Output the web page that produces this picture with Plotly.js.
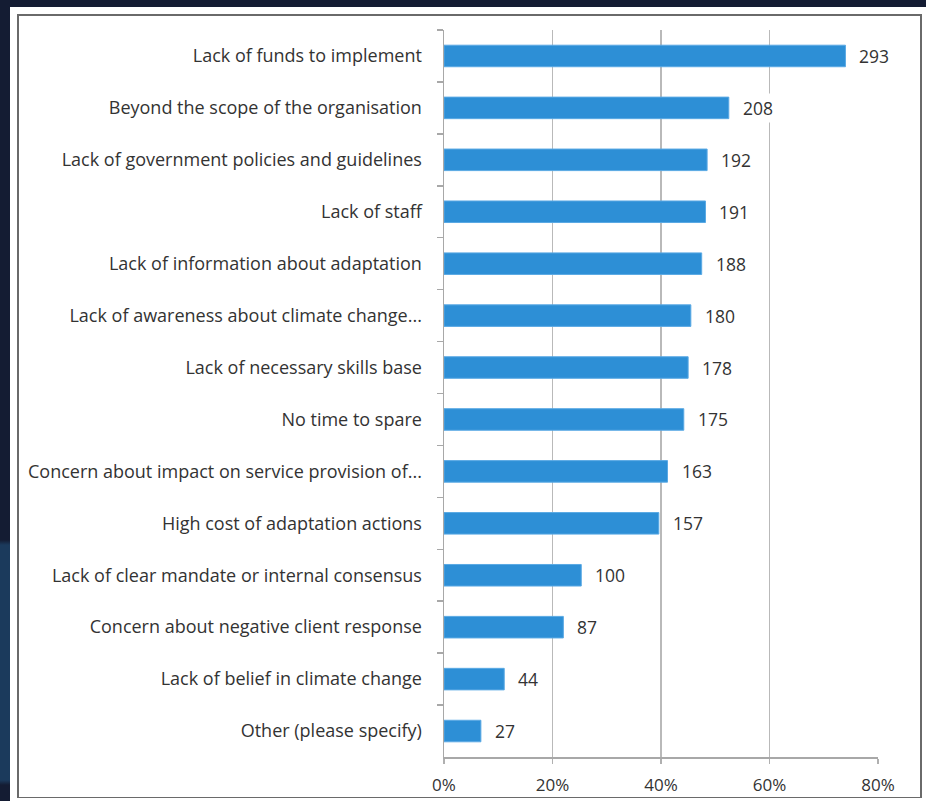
<!DOCTYPE html>
<html>
<head>
<meta charset="utf-8">
<script src="https://cdn.plot.ly/plotly-3.0.1.min.js"></script>
<style>
  html, body { margin: 0; padding: 0; width: 926px; height: 801px; overflow: hidden;
    background: linear-gradient(to bottom, #141c33 0px, #141c33 540px, #1b3a5c 545px, #1b3a5c 780px, #141c33 785px); }
  #panel { position: absolute; left: 10px; top: 7px; width: 916px; height: 794px; background: #ffffff; }
  #frame { position: absolute; left: 7px; top: 7px; width: 901px; height: 781px; border: 2px solid #6a6a6a; border-bottom-width: 1px; }
  #chart { position: absolute; left: 0; top: 0; width: 901px; height: 781px; }
</style>
</head>
<body>
<div id="panel"><div id="frame"><div id="chart"></div></div></div>
<script>
const categories = [
  "Lack of funds to implement",
  "Beyond the scope of the organisation",
  "Lack of government policies and guidelines",
  "Lack of staff",
  "Lack of information about adaptation",
  "Lack of awareness about climate change...",
  "Lack of necessary skills base",
  "No time to spare",
  "Concern about impact on service provision of...",
  "High cost of adaptation actions",
  "Lack of clear mandate or internal consensus",
  "Concern about negative client response",
  "Lack of belief in climate change",
  "Other (please specify)"
];
const percentValues = [74.0, 52.5, 48.5, 48.2, 47.5, 45.5, 45.0, 44.2, 41.2, 39.6, 25.3, 22.0, 11.1, 6.8];
const countLabels = [293, 208, 192, 191, 188, 180, 178, 175, 163, 157, 100, 87, 44, 27];
const xTickValues = [0, 20, 40, 60, 80];
const xTickLabels = ["0%", "20%", "40%", "60%", "80%"];

const FONT = "'Open Sans', sans-serif";
const TXT = "#333333";

const trace = {
  type: "bar",
  orientation: "h",
  y: categories,
  x: percentValues,
  marker: { color: "#2d8fd6", line: { color: "#5aa9e4", width: 1 } },
  hoverinfo: "skip"
};

const annotations = categories.map((c, i) => ({
  x: percentValues[i], y: c, xref: "x", yref: "y",
  text: String(countLabels[i]), showarrow: false,
  xanchor: "left", yanchor: "middle", xshift: 11,
  bgcolor: "#ffffff", borderpad: 2,
  font: { family: FONT, size: 17.5, color: TXT }
}));

const layout = {
  width: 901, height: 781,
  margin: { l: 425, r: 42, t: 14, b: 40, pad: 0 },
  paper_bgcolor: "rgba(0,0,0,0)",
  plot_bgcolor: "#ffffff",
  showlegend: false,
  bargap: 0.585,
  font: { family: FONT, size: 18, color: TXT },
  xaxis: {
    range: [0, 80], tickmode: "array", tickvals: xTickValues, ticktext: xTickLabels,
    showgrid: true, gridcolor: "#b9b9b9", gridwidth: 1.5,
    zeroline: false, showline: true, linecolor: "#a8a8a8", linewidth: 1.5,
    ticks: "outside", ticklen: 5, tickcolor: "#b0b0b0", tickwidth: 1.5,
    ticklabelstandoff: 7,
    tickfont: { family: FONT, size: 17, color: TXT }, fixedrange: true
  },
  yaxis: {
    type: "category", autorange: "reversed",
    tickson: "boundaries", ticks: "outside", ticklen: 6, tickcolor: "#a8a8a8", tickwidth: 1.5,
    showgrid: false, zeroline: false, showline: true, linecolor: "#a8a8a8", linewidth: 1.5,
    ticklabelstandoff: 17,
    tickfont: { family: FONT, size: 18, color: TXT }, fixedrange: true
  },
  annotations: annotations
};

Plotly.newPlot("chart", [trace], layout, { displayModeBar: false, staticPlot: true });
</script>
</body>
</html>
